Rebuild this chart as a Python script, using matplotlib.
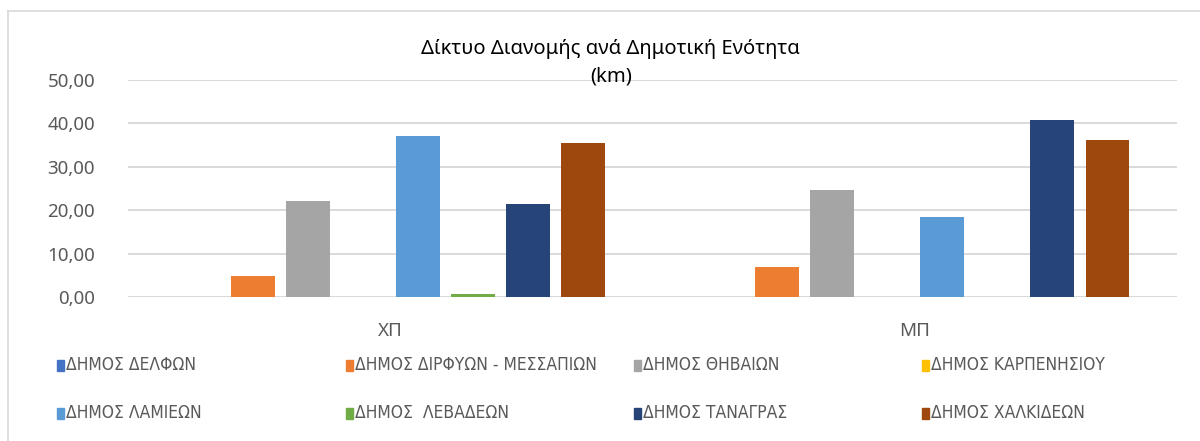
import numpy as np
import matplotlib
matplotlib.use('Agg')
import matplotlib.pyplot as plt
from matplotlib.patches import Rectangle
from matplotlib.lines import Line2D
from matplotlib.ticker import FuncFormatter

plt.rcParams['font.family'] = ['Noto Sans', 'DejaVu Sans']

# network length per municipality (km)
categories = ['ΧΠ', 'ΜΠ']
municipalities = ['ΔΗΜΟΣ ΔΕΛΦΩΝ', 'ΔΗΜΟΣ ΔΙΡΦΥΩΝ - ΜΕΣΣΑΠΙΩΝ', 'ΔΗΜΟΣ ΘΗΒΑΙΩΝ',
                  'ΔΗΜΟΣ ΚΑΡΠΕΝΗΣΙΟΥ', 'ΔΗΜΟΣ ΛΑΜΙΕΩΝ', 'ΔΗΜΟΣ  ΛΕΒΑΔΕΩΝ',
                  'ΔΗΜΟΣ ΤΑΝΑΓΡΑΣ', 'ΔΗΜΟΣ ΧΑΛΚΙΔΕΩΝ']
xp_values = [0.0, 4.8, 22.1, 0.0, 37.1, 0.75, 21.5, 35.5]
mp_values = [0.0, 6.9, 24.7, 0.0, 18.4, 0.0, 40.9, 36.3]
colors = ['#4472C4', '#ED7D31', '#A5A5A5', '#FFC000',
          '#5B9BD5', '#70AD47', '#264478', '#9E480E']

text_gray = '#595959'
grid_gray = '#D9D9D9'

fig = plt.figure(figsize=(12, 4.41), dpi=100)
ax = fig.add_axes([0.1069, 0.3259, 0.8737, 0.4927])

x = np.arange(len(categories))
step = 0.105
width = 0.083
for i, name in enumerate(municipalities):
    vals = [xp_values[i], mp_values[i]]
    ax.bar(x + (i - 3.5) * step, vals, width=width, color=colors[i], label=name, zorder=3)

ax.set_xlim(-0.5, 1.5)
ax.set_ylim(0, 50)
ax.set_yticks(np.arange(0, 51, 10))
ax.yaxis.set_major_formatter(FuncFormatter(lambda v, p: f'{v:.2f}'.replace('.', ',')))
ax.set_xticks(x)
ax.set_xticklabels(categories)
ax.tick_params(axis='both', length=0, colors=text_gray, labelsize=13.5)
ax.tick_params(axis='y', pad=24)
ax.tick_params(axis='x', pad=18)
ax.grid(axis='y', color=grid_gray, linewidth=1.4, zorder=0)
for s in ax.spines.values():
    s.set_visible(False)

fig.text(0.509, 0.889, 'Δίκτυο Διανομής ανά Δημοτική Ενότητα', ha='center', va='center',
         fontsize=14.5, color='black')
fig.text(0.509, 0.826, '(km)', ha='center', va='center', fontsize=14.5, color='black')

# legend laid out as a 4 x 2 grid
col_x = [57, 346, 634, 922]
row_y = [365, 413]
H, W = 441.0, 1200.0
for i, name in enumerate(municipalities):
    cx = col_x[i % 4]
    cy = row_y[i // 4]
    fig.patches.append(Rectangle((cx / W, (H - cy - 5.5) / H), 7 / W, 11 / H,
                                 transform=fig.transFigure, color=colors[i]))
    fig.text((cx + 9) / W, (H - cy) / H, name, ha='left', va='center', fontsize=12.5,
             color=text_gray, family='DejaVu Sans', fontstretch='condensed')

# chart area border
fig.add_artist(Line2D([8 / W, 8 / W], [0, (H - 11) / H], color=grid_gray, linewidth=1.2))
fig.add_artist(Line2D([8 / W, 1], [(H - 11) / H, (H - 11) / H], color=grid_gray, linewidth=1.2))

fig.savefig('out.png', dpi=100)
